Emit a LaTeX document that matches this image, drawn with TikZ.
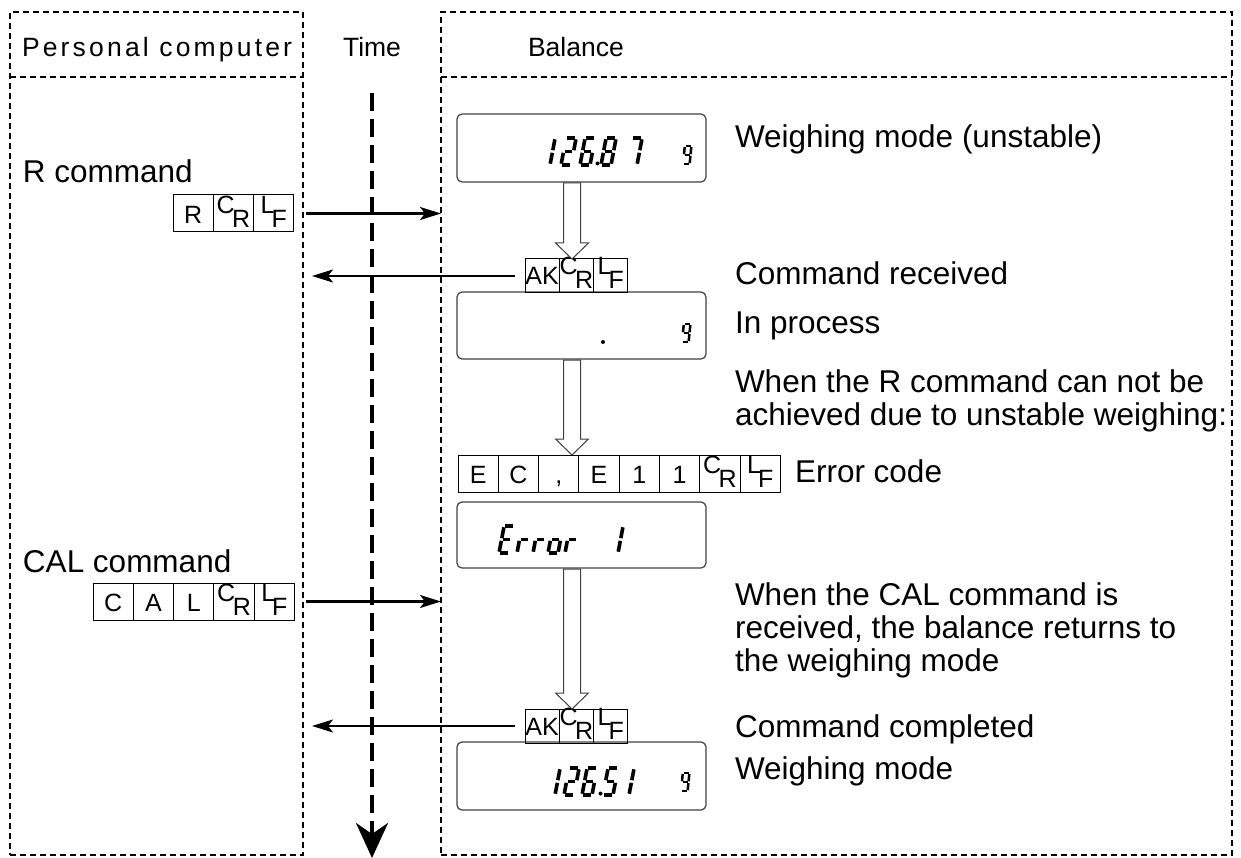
\documentclass[tikz,border=0pt]{standalone}
\usepackage{fontspec}
\setmainfont{Liberation Sans}
\newfontfamily\hdrfont[LetterSpace=12]{Liberation Sans}
\usetikzlibrary{arrows.meta,calc}
% seven-segment pieces (origin = bottom-left, y downwards)
\newcommand\sgA{\draw (1.3,-27) -- (8.7,-27);}
\newcommand\sgB{\draw (10,-25.7) -- (10,-14.8);}
\newcommand\sgC{\draw (10,-12.2) -- (10,-1.3);}
\newcommand\sgD{\draw (1.3,0) -- (8.7,0);}
\newcommand\sgE{\draw (0,-12.2) -- (0,-1.3);}
\newcommand\sgF{\draw (0,-25.7) -- (0,-14.8);}
\newcommand\sgG{\draw (1.3,-13.5) -- (8.7,-13.5);}
\newcommand\segdigit[3]{\begin{scope}[shift={(#1,#2)},xslant=0.19,line width=3.6pt]#3\end{scope}}
\newcommand\gunit[2]{\begin{scope}[shift={(#1,#2)},xslant=0.1,scale=0.66,line width=2.5pt]\sgA\sgB\sgC\sgD\sgF\sgG\end{scope}}
\newcommand\CRsym{\smash{\raisebox{10pt}{C}\kern-2.5pt\raisebox{-4pt}{R}}}
\newcommand\LFsym{\smash{\raisebox{10pt}{L}\kern-3pt\raisebox{-4pt}{F}}}
\newcommand\hollowarrow[2]{\draw[hollow] let \p1=(#1), \p2=(#2) in
  ({\x1-8.5pt},{\y1-1pt}) -- ({\x1+8.5pt},{\y1-1pt}) -- ({\x1+8.5pt},{\y2+16pt})
  -- ({\x1+16.5pt},{\y2+16pt}) -- (\x2,\y2) -- ({\x1-16.5pt},{\y2+16pt})
  -- ({\x1-8.5pt},{\y2+16pt}) -- cycle;}
\begin{document}
\begin{tikzpicture}[x=1pt,y=-1pt,
  every node/.style={inner sep=0pt,outer sep=0pt},
  dashbox/.style={draw,line width=2.6pt,dash pattern=on 6pt off 4pt},
  hdr/.style={font=\fontsize{26.5}{28}\selectfont},
  lbl/.style={anchor=base west,font=\fontsize{31.5}{33}\selectfont},
  cell/.style={draw,line width=1pt,minimum width=40.3pt,minimum height=37pt,
    font=\fontsize{25}{26}\selectfont,text height=19.5pt,text depth=0pt},
  akcell/.style={cell,minimum width=34.3pt,minimum height=34pt,text height=18pt},
  disp/.style={draw=black!75,line width=1.2pt,rounded corners=5pt,minimum width=249pt},
  hollow/.style={draw=black!75,line width=1pt,fill=white},
  conn/.style={line width=2.2pt,-{Stealth[length=21pt,width=13pt,inset=5pt]}},
  timeline/.style={line width=3.5pt,dash pattern=on 18pt off 8pt,
    -{Stealth[length=35pt,width=32pt,inset=11pt]}}]
\useasboundingbox (0,0) rectangle (1241,858);

% frames
\node[dashbox,minimum width=293pt,minimum height=843pt,anchor=north west] (pc) at (10,12) {};
\node[dashbox,minimum width=791pt,minimum height=843pt,anchor=north west] (bal) at (441,12) {};
\draw[dashbox] ([yshift=-65pt]pc.north west) -- ([yshift=-65pt]pc.north east);
\draw[dashbox] ([yshift=-65pt]bal.north west) -- ([yshift=-65pt]bal.north east);
\coordinate (pcS) at ([xshift=3pt]pc.east);
\coordinate (pcR) at ([xshift=9pt]pc.east);
\coordinate (ax) at (572,0);

% headers
\node[hdr,anchor=base west] (pclbl) at (22,57) {\hdrfont Personal computer};
\node[hdr,anchor=base] (timelbl) at (372,57) {Time};
\node[hdr,anchor=base west] (ballbl) at (528,57) {Balance};

% time axis
\coordinate (tstart) at (372,93);
\coordinate (tend) at (372,858);
\draw[timeline] (tstart) -- (tend);

% left labels and command codes
\node[lbl] (rcmd) at (23,183) {R command};
\node[cell,anchor=north west] (r1) at (173,195) {R};
\node[cell,anchor=west] (r2) at (r1.east) {\CRsym};
\node[cell,anchor=west] (r3) at (r2.east) {\LFsym};

\node[lbl] (calcmd) at (23,572) {CAL command};
\node[cell,anchor=north west] (c1) at (93,583) {C};
\node[cell,anchor=west] (c2) at (c1.east) {A};
\node[cell,anchor=west] (c3) at (c2.east) {L};
\node[cell,anchor=west] (c4) at (c3.east) {\CRsym};
\node[cell,anchor=west] (c5) at (c4.east) {\LFsym};

% displays
\node[disp,minimum height=68pt] (d1) at (581.5,148) {};
\node[disp,minimum height=67pt] (d2) at (581.5,325.5) {};
\node[disp,minimum height=66pt] (d3) at (581.5,535) {};
\node[disp,minimum height=68pt] (d4) at (581.5,776) {};

% AK rows
\node[akcell,anchor=north west] (ka1) at (525,259) {AK};
\node[akcell,anchor=west] (kb1) at (ka1.east) {\CRsym};
\node[akcell,anchor=west] (kc1) at (kb1.east) {\LFsym};
\node[akcell,anchor=north west] (ka2) at (525,709) {AK};
\node[akcell,anchor=west] (kb2) at (ka2.east) {\CRsym};
\node[akcell,anchor=west] (kc2) at (kb2.east) {\LFsym};

% error code row
\node[cell,anchor=north west] (e1) at (458,455) {E};
\node[cell,anchor=west] (e2) at (e1.east) {C};
\node[cell,anchor=west] (e3) at (e2.east) {,};
\node[cell,anchor=west] (e4) at (e3.east) {E};
\node[cell,anchor=west] (e5) at (e4.east) {1};
\node[cell,anchor=west] (e6) at (e5.east) {1};
\node[cell,anchor=west] (e7) at (e6.east) {\CRsym};
\node[cell,anchor=west] (e8) at (e7.east) {\LFsym};

% hollow arrows
\hollowarrow{d1.south -| ax}{kb1.north -| ax}
\hollowarrow{d2.south -| ax}{e3.north -| ax}
\hollowarrow{d3.south -| ax}{kb2.north -| ax}

% connectors
\draw[conn] (pcS |- r3.east) -- (bal.west |- r3.east);
\draw[conn] (pcS |- c5.east) -- (bal.west |- c5.east);
\draw[conn] ([xshift=-10pt]ka1.west) -- (pcR |- ka1.west);
\draw[conn] ([xshift=-10pt]ka2.west) -- (pcR |- ka2.west);

% display contents
\segdigit{540}{165}{\sgB\sgC}
\segdigit{561}{165}{\sgA\sgB\sgG\sgE\sgD}
\segdigit{580}{165}{\sgA\sgF\sgG\sgE\sgD\sgC}
\fill (597.5,163.5) circle (2);
\segdigit{601}{165}{\sgA\sgB\sgC\sgD\sgE\sgF\sgG}
\segdigit{627}{165}{\sgA\sgB\sgC}
\gunit{683}{164}

\fill (603,342) circle (2);
\gunit{682}{342}

\segdigit{499}{553}{\sgA\sgF\sgG\sgE\sgD}
\segdigit{517}{553}{\sgG\sgE}
\segdigit{533}{553}{\sgG\sgE}
\segdigit{548}{553}{\sgG\sgE\sgC\sgD}
\segdigit{565}{553}{\sgG\sgE}
\segdigit{608}{553}{\sgB\sgC}

\segdigit{545}{795}{\sgB\sgC}
\segdigit{564}{795}{\sgA\sgB\sgG\sgE\sgD}
\segdigit{582}{795}{\sgA\sgF\sgG\sgE\sgD\sgC}
\fill (600.5,793.5) circle (2);
\segdigit{603}{795}{\sgA\sgF\sgG\sgC\sgD}
\segdigit{619}{795}{\sgB\sgC}
\gunit{681}{791}

% right-hand texts
\node[lbl] (t1) at (735,148) {Weighing mode (unstable)};
\node[lbl] (t2) at (735,285) {Command received};
\node[lbl] (t3) at (735,333) {In process};
\node[lbl] (t4) at (735,392) {When the R command can not be};
\node[lbl] (t5) at (735,425) {achieved due to unstable weighing:};
\node[lbl] (t6) at (795,482) {Error code};
\node[lbl] (t7) at (735,605) {When the CAL command is};
\node[lbl] (t8) at (735,638) {received, the balance returns to};
\node[lbl] (t9) at (735,671) {the weighing mode};
\node[lbl] (t10) at (735,737) {Command completed};
\node[lbl] (t11) at (735,779) {Weighing mode};
\end{tikzpicture}
\end{document}
